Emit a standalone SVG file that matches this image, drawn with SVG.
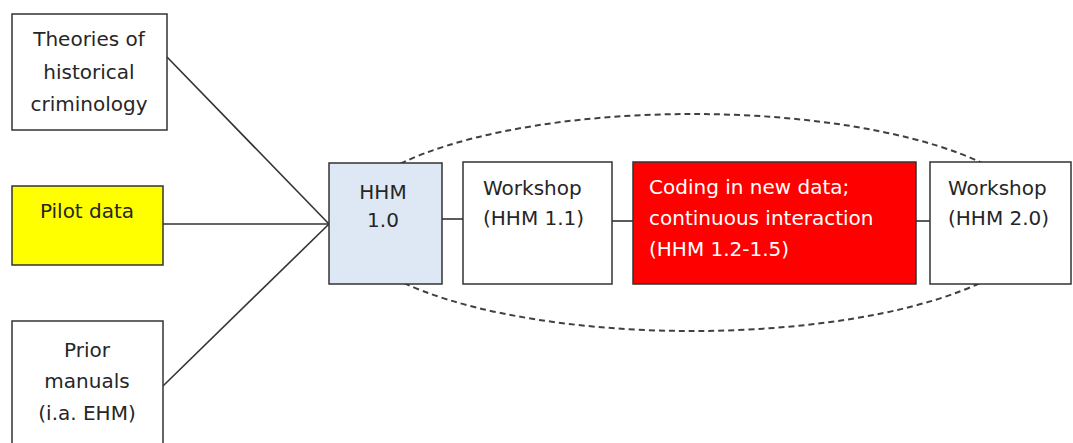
<svg xmlns="http://www.w3.org/2000/svg" width="1073" height="443" viewBox="0 0 1073 443">
<style>
.box{stroke:#333333;stroke-width:1.5}
.t{font-family:"DejaVu Sans",sans-serif;font-size:20px;fill:#262626}
.c{text-anchor:middle}
.w{fill:#ffffff}
.ln{stroke:#333333;stroke-width:1.6;fill:none}
</style>
<rect width="1073" height="443" fill="#ffffff"/>
<g id="connectors">
<ellipse cx="692" cy="222.5" rx="347" ry="108.5" fill="none" stroke="#404040" stroke-width="2" stroke-dasharray="6 4"/>
<line class="ln" x1="167" y1="57" x2="329" y2="224"/>
<line class="ln" x1="163" y1="224" x2="329" y2="224"/>
<line class="ln" x1="163" y1="386" x2="329" y2="224"/>
<line class="ln" x1="442" y1="219" x2="463" y2="219"/>
<line class="ln" x1="612" y1="221" x2="633" y2="221"/>
<line class="ln" x1="916" y1="221" x2="930" y2="221"/>
</g>
<g id="theories">
<rect class="box" x="12" y="14" width="155" height="116" fill="#ffffff"/>
<text class="t c" x="89" y="46">Theories of</text>
<text class="t c" x="89" y="79">historical</text>
<text class="t c" x="89" y="111">criminology</text>
</g>
<g id="pilot">
<rect class="box" x="12" y="186" width="151" height="79" fill="#ffff00"/>
<text class="t c" x="87" y="218">Pilot data</text>
</g>
<g id="prior">
<rect class="box" x="12" y="321" width="151" height="130" fill="#ffffff"/>
<text class="t c" x="87" y="357">Prior</text>
<text class="t c" x="87" y="388">manuals</text>
<text class="t c" x="87" y="420">(i.a. EHM)</text>
</g>
<g id="hhm10">
<rect class="box" x="329" y="163" width="113" height="121" fill="#dee8f4"/>
<text class="t c" x="383" y="199">HHM</text>
<text class="t c" x="383" y="227">1.0</text>
</g>
<g id="workshop11">
<rect class="box" x="463" y="162" width="149" height="122" fill="#ffffff"/>
<text class="t" x="483" y="195">Workshop</text>
<text class="t" x="483" y="225">(HHM 1.1)</text>
</g>
<g id="coding">
<rect class="box" x="633" y="162" width="283" height="122" fill="#ff0000"/>
<text class="t w" x="649" y="194">Coding in new data;</text>
<text class="t w" x="649" y="225">continuous interaction</text>
<text class="t w" x="649" y="256">(HHM 1.2-1.5)</text>
</g>
<g id="workshop20">
<rect class="box" x="930" y="162" width="141" height="122" fill="#ffffff"/>
<text class="t" x="948" y="195">Workshop</text>
<text class="t" x="948" y="225">(HHM 2.0)</text>
</g>
</svg>
